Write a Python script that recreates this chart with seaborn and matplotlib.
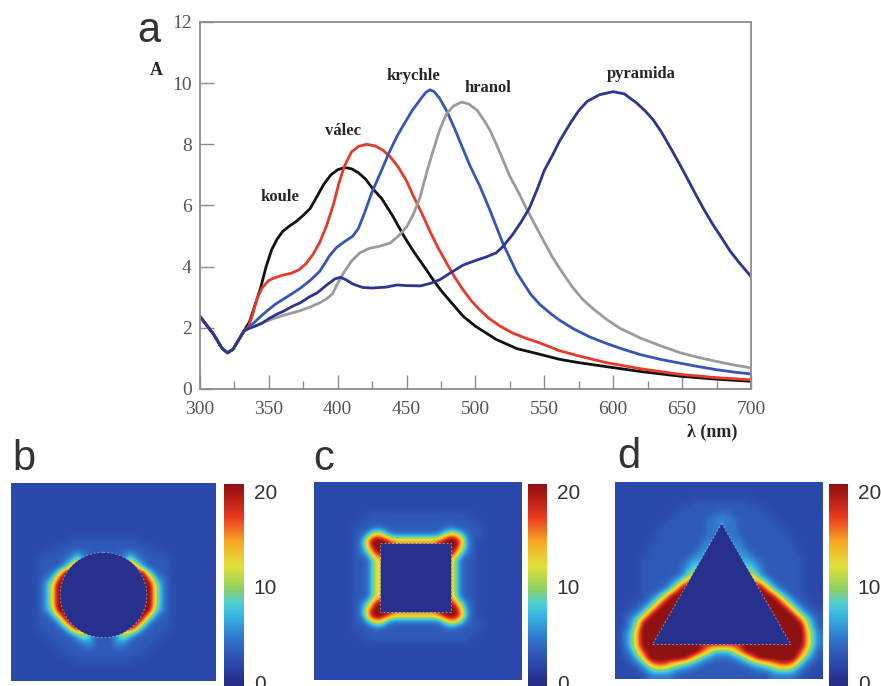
import numpy as np
import pandas as pd
import matplotlib
matplotlib.use('Agg')
import matplotlib.pyplot as plt
from matplotlib.colors import LinearSegmentedColormap, Normalize
from matplotlib.patches import Ellipse, Rectangle, Polygon
from matplotlib.ticker import MultipleLocator
import seaborn as sns

sns.set_style('white')
plt.rcParams['font.family'] = ['Liberation Serif', 'DejaVu Serif']

# ---- panel a: extinction spectra ----
koule_nm = [300, 310, 316, 320, 324, 328, 332, 336, 340, 344, 348, 352, 356, 360,
            365, 370, 375, 380, 385, 390, 395, 400, 405, 410, 415, 420, 426, 432,
            440, 448, 455, 462, 468, 475, 482, 491, 500, 515, 530, 547, 561, 575,
            595, 620, 650, 675, 700]
koule_A = [2.37, 1.78, 1.33, 1.18, 1.30, 1.60, 1.90, 2.20, 2.75, 3.30, 4.00, 4.55, 4.90, 5.15,
           5.33, 5.48, 5.68, 5.90, 6.30, 6.70, 7.00, 7.17, 7.24, 7.20, 7.07, 6.87, 6.52, 6.22,
           5.65, 5.00, 4.50, 4.05, 3.65, 3.22, 2.85, 2.38, 2.05, 1.62, 1.32, 1.13, 0.97, 0.86,
           0.73, 0.57, 0.41, 0.32, 0.25]

valec_nm = [300, 310, 316, 320, 324, 328, 332, 335, 338, 341, 345, 350, 355, 360, 366, 372,
            377, 382, 387, 392, 397, 401, 405, 410, 415, 421, 427, 433, 438, 444, 450, 455,
            461, 467, 473, 479, 485, 491, 497, 503, 510, 518, 527, 537, 547, 561, 575, 595,
            620, 648, 675, 700]
valec_A = [2.37, 1.78, 1.33, 1.18, 1.30, 1.60, 1.90, 2.00, 2.40, 2.90, 3.30, 3.55, 3.65, 3.72, 3.78, 3.90,
           4.10, 4.40, 4.80, 5.35, 6.05, 6.75, 7.30, 7.75, 7.93, 8.00, 7.95, 7.80, 7.60, 7.25, 6.80, 6.30,
           5.75, 5.15, 4.60, 4.12, 3.65, 3.24, 2.88, 2.59, 2.30, 2.05, 1.83, 1.65, 1.50, 1.25, 1.08, 0.86,
           0.66, 0.48, 0.37, 0.30]

krychle_nm = [300, 310, 316, 320, 324, 328, 332, 335, 340, 344, 350, 355, 361, 367, 373, 380,
              387, 394, 399, 405, 411, 415, 419, 425, 431, 437, 443, 448, 454, 460, 464, 467,
              470, 474, 479, 485, 490, 496, 503, 510, 520, 530, 540, 547, 555, 561, 571, 583,
              595, 607, 620, 634, 649, 662, 675, 688, 700]
krychle_A = [2.37, 1.78, 1.33, 1.18, 1.30, 1.60, 1.90, 1.98, 2.20, 2.37, 2.60, 2.78, 2.95, 3.12, 3.30, 3.55,
             3.85, 4.35, 4.62, 4.82, 5.00, 5.25, 5.70, 6.45, 7.06, 7.70, 8.26, 8.65, 9.10, 9.47, 9.70, 9.78,
             9.72, 9.50, 9.10, 8.50, 7.95, 7.30, 6.65, 5.90, 4.75, 3.80, 3.10, 2.75, 2.45, 2.25, 1.97, 1.70,
             1.49, 1.30, 1.12, 0.97, 0.84, 0.73, 0.63, 0.55, 0.49]

hranol_nm = [300, 310, 316, 320, 324, 328, 332, 335, 340, 345, 350, 360, 372, 380, 387, 392,
             396, 400, 405, 410, 416, 423, 430, 438, 444, 450, 455, 460, 465, 470, 474, 479,
             484, 490, 495, 501, 506, 511, 518, 525, 531, 537, 544, 550, 556, 561, 570, 578,
             586, 595, 605, 620, 635, 649, 662, 675, 688, 700]
hranol_A = [2.37, 1.78, 1.33, 1.18, 1.30, 1.60, 1.90, 1.97, 2.07, 2.15, 2.25, 2.40, 2.55, 2.68, 2.82, 2.95,
            3.10, 3.45, 3.85, 4.18, 4.45, 4.60, 4.66, 4.77, 5.00, 5.30, 5.72, 6.30, 7.15, 7.90, 8.47, 9.00,
            9.25, 9.38, 9.32, 9.12, 8.80, 8.42, 7.70, 6.95, 6.45, 5.90, 5.30, 4.80, 4.30, 3.95, 3.35, 2.92,
            2.60, 2.28, 1.98, 1.66, 1.40, 1.18, 1.03, 0.90, 0.78, 0.69]

pyramida_nm = [300, 310, 316, 320, 324, 328, 332, 335, 340, 345, 350, 356, 361, 367, 373, 379,
               385, 392, 398, 402, 406, 411, 418, 425, 435, 443, 450, 460, 467, 474, 482, 491,
               500, 508, 515, 520, 527, 533, 539, 545, 550, 556, 561, 569, 575, 581, 590, 600,
               608, 617, 623, 629, 635, 641, 647, 653, 660, 666, 672, 678, 685, 692, 700]
pyramida_A = [2.37, 1.78, 1.33, 1.18, 1.30, 1.60, 1.90, 1.97, 2.05, 2.15, 2.30, 2.45, 2.55, 2.70, 2.82, 3.00,
              3.14, 3.40, 3.60, 3.65, 3.57, 3.43, 3.32, 3.30, 3.33, 3.40, 3.38, 3.37, 3.45, 3.57, 3.80, 4.05,
              4.20, 4.32, 4.45, 4.66, 5.05, 5.45, 5.90, 6.55, 7.15, 7.65, 8.10, 8.70, 9.10, 9.40, 9.62, 9.72,
              9.65, 9.35, 9.10, 8.80, 8.40, 7.93, 7.45, 6.95, 6.35, 5.86, 5.40, 4.99, 4.50, 4.10, 3.68]

shape_names = ['koule', 'válec', 'krychle', 'hranol', 'pyramida']
shape_colors = ['#111111', '#e8392a', '#3556b8', '#9b9b9b', '#2c3590']
label_nm = [358, 404, 455, 509, 620]
label_A = [6.29, 8.44, 10.24, 9.85, 10.31]

# ---- panels b-d: field maps, one character per cell (32 x 32) ----
level_chars = '.123456789#'
level_values = [0.3, 2, 3, 4.5, 6, 8, 10, 12.5, 15, 18, 22]

field_sphere = [
    "11111111111111111111111111111111",
    "11111111111111111111111111111111",
    "11111111111111111111111111111111",
    "11111111111111111111111111111111",
    "11111111111111111111111111111111",
    "11111111111111111111111111111111",
    "11111111111111111111111111111111",
    "11111111111111111111111111111111",
    "11111111111111111111111111111111",
    "11111111122222222222111111111111",
    "11111112222222222222221111111111",
    "11111222234322222343222211111111",
    "11112222347222222274322221111111",
    "1111222248#3333333#8422221111111",
    "11112236###5555555###63221111111",
    "11112359#############95321111111",
    "1111247###############7421111111",
    "1111247###############7421111111",
    "1111247###############7421111111",
    "1111247###############7421111111",
    "1111246###############6421111111",
    "11112247#############74221111111",
    "111122248###########842221111111",
    "1111222248#4444444#8422221111111",
    "11111222235842224853222211111111",
    "11111122223442224432222111111111",
    "11111112222332223322221111111111",
    "11111111222222222222211111111111",
    "11111111112222222221111111111111",
    "11111111111111111111111111111111",
    "11111111111111111111111111111111",
    "11111111111111111111111111111111",
]

field_cube = [
    "11111111111111111111111111111111",
    "11111111111111111111111111111111",
    "11111111111111111111111111111111",
    "11111111111111111111111111111111",
    "11111111111111111111111111111111",
    "11111111222222222222222211111111",
    "11111112222222222222222221111111",
    "11111122233222222222332222111111",
    "11111122587433333334786322111111",
    "111111249##988888889##9421111111",
    "111111248###8888888###8421111111",
    "1111112369#888888888#96321111111",
    "11111122377777777777773221111111",
    "11111122377777777777773221111111",
    "11111122377777777777773221111111",
    "11111122377777777777773221111111",
    "11111122377777777777773221111111",
    "11111122377777777777773221111111",
    "11111122377777777777773221111111",
    "1111112369#888888888#96321111111",
    "111111248###8888888###8421111111",
    "111111249##988888889##9421111111",
    "11111122587433333334786322111111",
    "11111122233222222222332222111111",
    "11111112222222222222222221111111",
    "11111111222222222222222211111111",
    "11111111111111111111111111111111",
    "11111111111111111111111111111111",
    "11111111111111111111111111111111",
    "11111111111111111111111111111111",
    "11111111111111111111111111111111",
    "11111111111111111111111111111111",
]

field_pyramid = [
    "11111111111111111111111111111111",
    "11111111111111111111111111111111",
    "11111111111111111111111111111111",
    "11111111111122222222211111111111",
    "11111111112222222222222111111111",
    "11111111122222233322222211111111",
    "11111111222222334332222221111111",
    "11111112222222333332222222111111",
    "11111122222222333332222222211111",
    "11111122222223333333222222211111",
    "11111222222223444443222222221111",
    "11111222222234444444322222221111",
    "11112222222344444444432222222111",
    "11112222223455555555543222222111",
    "11112222223566666666653222222111",
    "11112222234777777777774322222111",
    "11112222358999999999998532222111",
    "1111222358#############853222111",
    "111122469###############96422111",
    "11122469#################9642211",
    "1122469###################964221",
    "122469#####################96422",
    "12469#######################9642",
    "1247#########################742",
    "1358#########################853",
    "1358#########################853",
    "1358#########9999999#########853",
    "12479########9755579########9742",
    "12358######97543334579######8532",
    "11235899876543222223456789985321",
    "11123566543322222222233456653211",
    "11112333322222222222222233332111",
]

# particle outlines in map cells
sphere_center = (14.5, 18.1)
sphere_size = (13.6, 13.8)
cube_corner = (10.2, 9.8)
cube_size = (11.0, 11.2)
pyramid_vertices = [(16.5, 6.7), (5.8, 26.4), (27.2, 26.4)]

field_cmap = LinearSegmentedColormap.from_list('faded_jet', [
    (0.00, '#26267f'), (0.06, '#283291'), (0.13, '#2c4aab'), (0.20, '#2f62bf'),
    (0.28, '#3287d2'), (0.36, '#38b4e2'), (0.42, '#4fcfd2'), (0.50, '#96d05a'),
    (0.60, '#e2e23a'), (0.72, '#f7a824'), (0.84, '#ea3a20'), (0.93, '#b81c16'),
    (1.00, '#8e1212')])
field_norm = Normalize(vmin=-0.8, vmax=20.8)


def to_grid(rows):
    lut = dict(zip(level_chars, level_values))
    for r in rows:
        assert len(r) == 32, (len(r), r)
    return np.array([[lut[c] for c in r] for r in rows])


fig = plt.figure(figsize=(8.81, 6.86), dpi=100)

# ---- panel a ----
spectra = pd.concat([
    pd.DataFrame({'nm': x, 'A': y, 'tvar': n})
    for n, x, y in zip(shape_names,
                       [koule_nm, valec_nm, krychle_nm, hranol_nm, pyramida_nm],
                       [koule_A, valec_A, krychle_A, hranol_A, pyramida_A])
], ignore_index=True)

ax = fig.add_axes([0.227, 0.433, 0.6254, 0.535])
sns.lineplot(data=spectra, x='nm', y='A', hue='tvar',
             palette=dict(zip(shape_names, shape_colors)),
             estimator=None, sort=False, legend=False, linewidth=2.0, ax=ax)
ax.set_xlim(300, 700)
ax.set_ylim(0, 12)
ax.set_xticks(np.arange(300, 701, 50))
ax.xaxis.set_minor_locator(MultipleLocator(25))
ax.set_yticks(np.arange(0, 13, 2))
ax.tick_params(which='both', direction='in', bottom=True, left=True, top=False, right=False,
               color='#8c8c8c', width=1.0, labelcolor='#555555', labelsize=14)
ax.tick_params(which='major', length=10)
ax.tick_params(which='minor', length=6)
ax.tick_params(axis='x', pad=9)
ax.tick_params(axis='y', pad=6)
ax.set_xlabel('')
ax.set_ylabel('')
for s in ax.spines.values():
    s.set_color('#8c8c8c')
    s.set_linewidth(1.3)

for name, x, y in zip(shape_names, label_nm, label_A):
    ax.text(x, y, name, ha='center', va='center', fontsize=12, fontweight='bold')
ax.text(268, 10.4, 'A', ha='center', va='center', fontsize=13, fontweight='bold', clip_on=False)
ax.text(672, -1.43, 'λ (nm)', ha='center', va='center', fontsize=13, fontweight='bold', clip_on=False)

fig.text(0.1555, 0.9388, 'a', fontsize=30, color='#333333', family='Liberation Sans', va='baseline')

# ---- panels b-d ----
panels = [
    ('b', field_sphere, [0.0125, 0.0073, 0.2316, 0.2886], [0.2543, -0.0058, 0.0227, 0.3003],
     Ellipse(sphere_center, sphere_size[0], sphere_size[1]), (0.0136, 0.3149)),
    ('c', field_cube, [0.3564, 0.0087, 0.2350, 0.2886], [0.5993, -0.0058, 0.0216, 0.3003],
     Rectangle(cube_corner, cube_size[0], cube_size[1]), (0.3553, 0.3149)),
    ('d', field_pyramid, [0.6980, 0.0102, 0.2350, 0.2872], [0.9410, -0.0058, 0.0216, 0.3003],
     Polygon(pyramid_vertices, closed=True), (0.7003, 0.3178)),
]

inside = field_cmap(field_norm(0.3))
for letter, rows, rect, crect, patch, lxy in panels:
    fax = fig.add_axes(rect)
    im = fax.imshow(to_grid(rows), cmap=field_cmap, norm=field_norm, interpolation='bicubic',
                    extent=(0, 32, 32, 0), aspect='auto')
    patch.set_facecolor(inside)
    patch.set_edgecolor((0.85, 0.85, 0.95, 0.55))
    patch.set_linewidth(0.7)
    patch.set_linestyle((0, (2, 2)))
    fax.add_patch(patch)
    fax.set_xlim(0, 32)
    fax.set_ylim(32, 0)
    fax.set_axis_off()

    cax = fig.add_axes(crect)
    cb = fig.colorbar(im, cax=cax)
    cb.outline.set_visible(False)
    cax.set_yticks([0, 10, 20], labels=['0', '10', '20'], family='Liberation Sans')
    cax.tick_params(length=0, labelsize=15, pad=7, labelcolor='#333333')

    fig.text(lxy[0], lxy[1], letter, fontsize=30, color='#333333', family='Liberation Sans', va='baseline')

fig.savefig('out.png', dpi=100)
